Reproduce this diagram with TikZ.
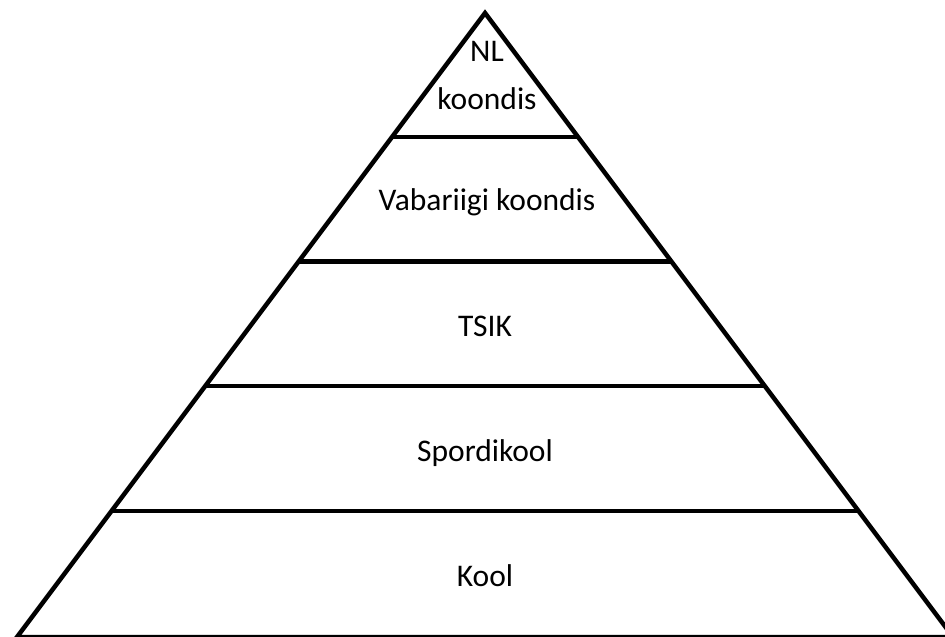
\documentclass[tikz,border=0pt]{standalone}
\usepackage{fontspec}
\setmainfont{Carlito}
\begin{document}
\begin{tikzpicture}[x=1pt,y=-1pt,
  edge/.style={line width=4.5pt,black,line join=miter},
  tierlabel/.style={font=\fontsize{31.5}{48}\selectfont, align=center, inner sep=0pt, anchor=base}]
\useasboundingbox (0,0) rectangle (945,637);
% apex and base corners (slope 0.75)
\coordinate (apex) at (485,13);
\coordinate (bl) at (17,637);
\coordinate (br) at (953,637);
% tier boundaries on the edges
\coordinate (l1) at (391.75,137);   \coordinate (r1) at (578.25,137);
\coordinate (l2) at (298.4,261.5);  \coordinate (r2) at (671.6,261.5);
\coordinate (l3) at (205.0,386);    \coordinate (r3) at (765.0,386);
\coordinate (l4) at (111.25,511);   \coordinate (r4) at (858.75,511);
\draw[edge] (bl) -- (apex) -- (br) -- cycle;
\draw[edge] (l1) -- (r1);
\draw[edge] (l2) -- (r2);
\draw[edge] (l3) -- (r3);
\draw[edge] (l4) -- (r4);
\node[tierlabel] (nl) at (487,109) {NL\\koondis};
\node[tierlabel] (vab) at (487,210) {Vabariigi koondis};
\node[tierlabel] (tsik) at (485,336) {TSIK};
\node[tierlabel] (sport) at (485,461) {Spordikool};
\node[tierlabel] (kool) at (485,586) {Kool};
\end{tikzpicture}
\end{document}
